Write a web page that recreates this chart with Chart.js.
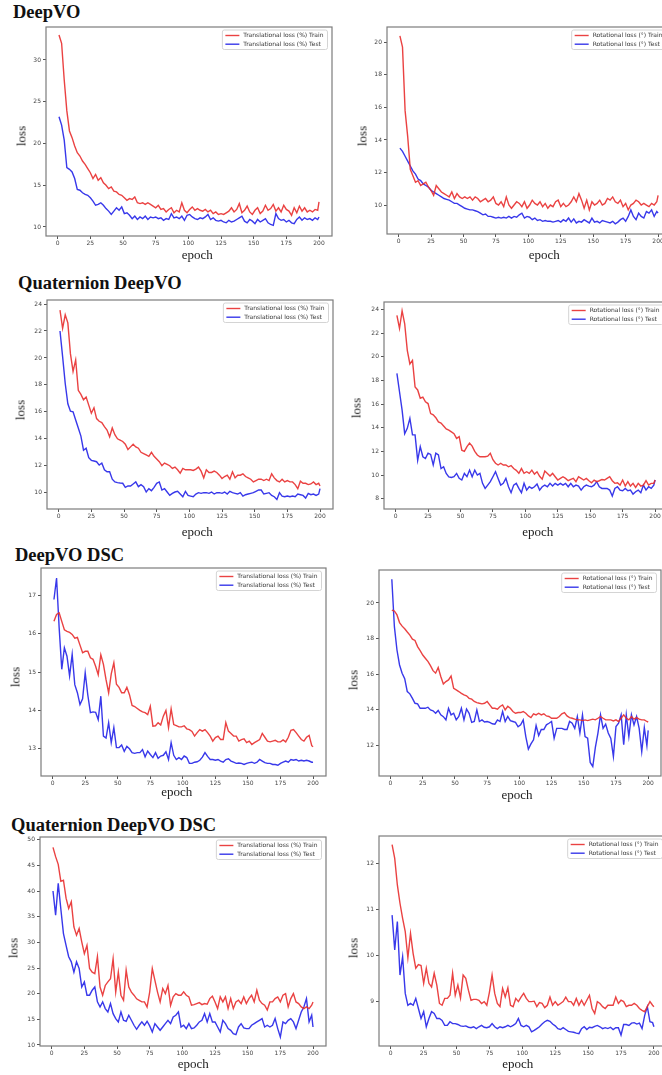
<!DOCTYPE html>
<html>
<head>
<meta charset="utf-8">
<script src="https://cdn.jsdelivr.net/npm/chart.js@4.4.0/dist/chart.umd.min.js"></script>
<style>
html, body { margin:0; padding:0; background:#fff; overflow:hidden; }
body { width:662px; height:1075px; position:relative; }
canvas { position:absolute; }
.ttl { position:absolute; font-family:"Liberation Serif", serif; font-weight:bold; font-size:18.5px; line-height:1; color:#111; white-space:nowrap; }
.lbl { position:absolute; font-family:"Liberation Serif", serif; font-size:13px; line-height:1; color:#222; white-space:nowrap; transform:translate(-50%,-50%); }
.lbl.rot { transform:translate(-50%,-50%) rotate(-90deg); }
</style>
</head>
<body>

<div class="ttl" style="left:13px;top:3px">DeepVO</div>
<div class="ttl" style="left:18px;top:274px">Quaternion DeepVO</div>
<div class="ttl" style="left:15px;top:546px">DeepVO DSC</div>
<div class="ttl" style="left:11px;top:816px">Quaternion DeepVO DSC</div>

<script>
// epochs sampled every 2 (plus the last one)
var epochs = [1,3,5,7,9,11,13,15,17,19,
  21,23,25,27,29,31,33,35,37,39,
  41,43,45,47,49,51,53,55,57,59,
  61,63,65,67,69,71,73,75,77,79,
  81,83,85,87,89,91,93,95,97,99,
  101,103,105,107,109,111,113,115,117,119,
  121,123,125,127,129,131,133,135,137,139,
  141,143,145,147,149,151,153,155,157,159,
  161,163,165,167,169,171,173,175,177,179,
  181,183,185,187,189,191,193,195,197,199,
  200];
var xTicks = [0,25,50,75,100,125,150,175,200];

var transNames = ['Translational loss (%) Train', 'Translational loss (%) Test'];
var rotNames = ['Rotational loss (°) Train', 'Rotational loss (°) Test'];

// DeepVO
var dvTransTicks = [10,15,20,25,30];
var dvTransTrain = [33.0,32.0,27.6,23.9,21.5,20.7,19.7,18.9,18.5,17.9,
  17.5,17.0,16.5,15.8,16.3,15.6,15.9,15.3,15.0,14.6,
  14.8,14.3,14.2,13.9,13.8,13.5,13.2,13.4,13.3,13.6,
  12.9,12.8,12.9,12.7,12.9,12.7,12.5,12.3,12.6,12.1,
  12.2,11.8,12.1,12.3,11.7,12.0,11.8,12.9,12.0,11.7,
  12.1,12.4,12.0,12.2,12.0,11.9,12.1,11.8,12.0,11.6,
  11.8,11.5,11.6,11.5,11.7,11.9,12.3,11.8,12.1,12.8,
  11.7,12.0,12.5,11.8,11.5,12.0,12.3,11.6,11.9,12.6,
  12.0,12.2,12.7,11.9,12.3,11.8,12.6,12.1,11.9,11.4,
  12.3,11.7,12.5,11.9,12.3,11.8,12.0,11.8,12.1,12.0,
  13.0];
var dvTransTest = [23.2,22.2,20.4,17.1,16.9,16.6,15.8,14.5,14.4,14.1,
  13.9,13.8,13.5,13.1,12.6,12.7,12.9,12.6,12.2,11.9,
  11.5,11.9,12.3,12.0,12.4,11.6,11.7,11.4,11.0,11.3,
  10.9,11.2,11.0,11.3,10.9,11.2,11.1,11.2,11.0,11.1,
  10.8,11.0,10.9,11.6,11.1,11.2,11.0,11.3,10.8,11.4,
  11.5,11.2,11.0,10.9,11.1,11.0,11.2,11.5,10.9,11.1,
  10.8,10.7,10.8,10.6,10.5,10.8,10.6,10.7,10.9,11.1,
  11.3,10.7,10.5,10.9,10.7,10.4,10.9,10.6,10.8,11.0,
  10.5,10.3,10.2,11.6,11.0,10.8,10.9,10.6,10.8,10.5,
  10.4,10.9,11.2,10.8,11.1,10.9,11.0,10.8,11.1,10.9,
  11.2];
var dvRotTicks = [10,12,14,16,18,20];
var dvRotTrain = [20.4,19.7,15.8,14.2,12.2,11.8,11.4,11.5,11.2,11.3,
  11.4,11.1,10.9,10.6,11.2,11.0,10.8,10.7,10.6,10.5,
  10.8,10.4,10.7,10.5,10.4,10.5,10.4,10.5,10.3,10.5,
  10.4,10.2,10.3,10.4,10.2,10.3,10.5,10.1,10.0,10.2,
  9.9,10.5,10.0,9.8,10.0,10.2,10.1,9.9,10.2,9.8,
  10.0,10.3,10.1,10.0,10.2,9.9,10.1,9.8,10.0,9.9,
  10.2,10.3,9.9,10.1,9.9,10.0,10.2,10.5,10.2,10.7,
  10.3,9.8,10.3,9.7,10.2,10.0,10.1,10.3,10.0,10.1,
  10.4,10.3,10.5,10.2,10.1,10.3,9.9,10.1,9.7,10.0,
  10.1,10.3,10.2,10.0,10.1,10.0,9.9,10.1,10.0,10.2,
  10.6];
var dvRotTest = [13.5,13.3,13.0,12.7,12.4,12.1,11.9,11.6,11.5,11.3,
  11.2,11.1,10.9,10.8,10.7,10.6,10.5,10.4,10.35,10.3,
  10.2,10.1,10.1,10.0,9.9,9.8,9.75,9.7,9.7,9.65,
  9.6,9.5,9.4,9.45,9.3,9.3,9.25,9.2,9.25,9.2,
  9.25,9.2,9.3,9.2,9.3,9.25,9.4,9.5,9.2,9.3,
  9.25,9.1,9.2,9.05,9.1,9.0,9.05,9.0,9.0,8.95,
  9.0,9.05,8.95,9.1,9.0,9.2,8.95,9.15,8.9,9.0,
  8.95,9.1,9.0,8.9,9.2,8.95,9.0,8.9,9.05,9.0,
  8.95,8.9,9.0,8.85,8.95,9.1,9.2,9.0,9.3,9.7,
  9.3,9.1,9.5,9.3,9.2,9.6,9.5,9.7,9.3,9.6,
  9.5];

// Quaternion DeepVO
var qTransTicks = [10,12,14,16,18,20,22,24];
var qTransTrain = [23.55,22.2,23.2,22.6,20.3,19.0,19.85,17.6,17.3,16.9,
  17.1,16.5,15.9,16.3,15.5,15.3,15.2,14.9,14.65,14.15,
  14.8,14.3,14.0,13.9,13.8,13.6,13.2,13.4,13.6,13.4,
  13.3,13.0,12.9,12.8,12.7,13.0,12.7,12.5,12.3,12.0,
  12.2,12.1,12.0,11.8,11.9,11.7,11.45,11.8,11.7,11.7,
  11.7,11.65,11.75,11.9,11.6,11.1,11.7,11.5,11.5,11.6,
  11.5,11.3,11.05,11.2,11.3,11.0,11.55,11.1,11.3,11.3,
  11.4,11.2,11.1,11.0,10.8,10.9,11.0,11.0,10.9,11.0,
  10.9,11.4,11.1,10.9,10.8,11.0,10.8,10.9,10.8,10.8,
  10.6,10.3,10.85,10.7,10.7,10.6,10.65,10.8,10.6,10.7,
  10.5];
var qTransTest = [22.0,20.1,18.1,16.6,16.05,16.0,15.4,14.8,14.2,13.15,
  13.3,12.6,12.4,12.35,12.3,12.05,12.2,11.7,11.55,11.55,
  11.0,10.8,10.75,10.72,10.7,10.4,10.5,10.5,10.65,10.8,
  10.45,10.6,10.45,10.05,10.3,10.15,10.4,10.7,10.8,10.2,
  10.3,10.05,9.8,9.95,10.05,10.1,9.9,9.7,10.1,9.8,
  9.75,9.7,9.9,10.0,9.95,10.0,10.0,9.95,10.05,9.9,
  10.0,10.0,9.95,10.05,9.9,10.1,10.0,9.95,9.9,10.0,
  9.75,9.85,9.9,9.95,10.0,10.1,10.2,10.2,9.9,9.95,
  10.0,9.8,9.7,9.5,10.0,9.75,9.7,9.75,9.7,9.75,
  9.7,9.9,9.85,9.8,9.6,9.95,9.85,9.9,9.8,9.9,
  10.3];
var qRotTicks = [8,10,12,14,16,18,20,22,24];
var qRotTrain = [23.5,22.4,23.9,22.8,20.55,19.4,19.7,17.45,17.2,16.5,
  16.6,16.2,16.05,15.2,15.1,14.85,14.5,14.4,14.15,13.9,
  13.8,13.65,13.5,13.1,13.25,12.1,12.0,12.4,12.7,12.45,
  12.0,11.7,11.55,11.55,11.55,11.6,11.85,11.3,11.0,10.85,
  11.0,10.85,10.85,10.7,10.8,10.55,10.4,10.15,10.55,10.15,
  10.28,10.14,10.42,10.08,10.28,9.9,9.65,10.34,10.14,9.92,
  10.14,9.86,9.58,9.72,9.86,9.72,9.52,9.63,9.72,9.44,
  9.86,9.72,9.58,9.72,9.52,9.35,9.58,9.44,9.52,9.63,
  9.58,9.72,9.86,9.52,9.3,9.35,9.15,9.58,9.07,9.44,
  9.07,9.3,8.96,9.3,9.07,9.15,9.52,9.15,9.3,9.3,
  9.58];
var qRotTest = [18.6,17.05,15.5,13.5,13.95,14.8,13.4,13.4,11.25,12.4,
  11.55,11.4,11.85,11.75,10.85,11.85,11.7,10.55,10.7,10.14,
  9.85,9.8,9.86,10.14,9.72,9.58,10.14,9.86,10.42,9.86,
  10.42,10.0,10.14,9.3,8.87,9.15,9.44,9.86,10.28,9.72,
  9.15,9.3,9.72,9.01,8.51,9.15,9.3,8.87,8.51,9.3,
  8.73,9.01,8.87,9.01,9.24,8.73,9.01,9.15,9.01,9.3,
  9.07,9.3,9.15,9.3,9.15,9.3,9.01,9.3,9.01,9.15,
  9.07,8.73,9.01,9.15,9.07,9.01,9.15,9.44,9.01,8.87,
  8.87,8.87,8.73,8.23,8.87,9.01,8.73,8.68,8.87,8.68,
  8.73,8.39,8.59,8.73,8.51,9.15,8.73,9.01,8.87,9.15,
  9.58];

// DeepVO DSC
var dscTransTicks = [13,14,15,16,17];
var dscTransTrain = [16.32,16.5,16.54,16.32,16.1,16.06,16.03,15.98,15.88,15.9,
  15.7,15.5,15.54,15.54,15.37,15.33,15.15,14.93,15.45,15.2,
  14.8,14.46,14.95,15.24,14.68,14.6,14.46,14.46,14.6,14.41,
  14.13,14.1,14.05,14.0,13.96,13.94,13.89,14.11,13.59,13.6,
  13.68,13.62,13.85,14.0,13.55,14.04,13.63,13.6,13.57,13.57,
  13.6,13.52,13.5,13.45,13.33,13.42,13.5,13.46,13.5,13.42,
  13.33,13.2,13.29,13.33,13.24,13.24,13.68,13.46,13.4,13.33,
  13.33,13.2,13.24,13.26,13.16,13.2,13.11,13.16,13.2,13.24,
  13.4,13.3,13.2,13.18,13.2,13.22,13.18,13.18,13.23,13.18,
  13.3,13.48,13.5,13.42,13.33,13.24,13.2,13.3,13.35,13.08,
  13.05];
var dscTransTest = [16.89,17.45,16.15,15.07,15.63,15.41,14.9,15.46,14.67,14.46,
  14.15,14.3,14.98,14.4,13.94,13.96,13.95,13.76,14.37,13.33,
  13.28,13.68,13.16,13.55,13.03,13.03,13.1,12.93,13.06,13.0,
  12.9,12.88,12.9,12.9,12.98,12.79,12.94,12.85,12.77,12.9,
  12.75,12.81,12.83,12.92,12.72,13.16,12.83,12.72,12.77,12.72,
  12.81,12.77,12.62,12.62,12.65,12.66,12.7,12.78,12.9,12.8,
  12.72,12.72,12.7,12.72,12.68,12.65,12.72,12.74,12.68,12.65,
  12.62,12.63,12.62,12.59,12.62,12.64,12.65,12.62,12.65,12.72,
  12.68,12.64,12.62,12.62,12.59,12.59,12.57,12.62,12.65,12.68,
  12.65,12.72,12.7,12.72,12.68,12.7,12.68,12.7,12.68,12.65,
  12.65];
var dscRotTicks = [12,14,16,18,20];
var dscRotTrain = [19.6,19.55,19.33,18.9,18.7,18.55,18.37,18.2,17.97,17.9,
  17.55,17.32,17.08,16.9,16.72,16.48,16.2,16.06,16.38,15.87,
  15.45,15.59,15.68,15.9,15.21,15.12,15.03,14.93,14.84,14.79,
  14.65,14.6,14.47,14.41,14.37,14.34,14.37,14.47,14.28,14.09,
  14.09,14.04,14.19,14.28,14.0,14.2,14.09,13.91,13.81,13.85,
  13.85,13.91,13.81,13.66,13.57,13.78,13.72,13.81,13.72,13.78,
  13.66,13.63,13.53,13.53,13.53,13.63,13.78,13.85,13.66,13.57,
  13.53,13.48,13.44,13.44,13.4,13.44,13.4,13.44,13.48,13.44,
  13.53,13.63,13.53,13.44,13.44,13.44,13.38,13.44,13.35,13.53,
  13.72,13.53,13.44,13.63,13.48,13.57,13.48,13.44,13.44,13.35,
  13.31];
var dscRotTest = [21.33,18.67,17.36,16.52,16.06,15.75,15.03,14.9,14.65,14.37,
  14.34,14.09,14.09,14.09,14.15,14.0,13.95,13.81,13.97,13.72,
  13.62,13.44,14.09,13.72,13.81,13.44,13.63,14.09,13.44,14.05,
  13.81,13.3,13.35,14.0,13.35,13.44,13.32,13.35,13.3,13.22,
  13.2,13.44,13.35,13.91,13.35,13.63,13.4,13.35,13.3,13.05,
  13.16,13.44,12.5,11.8,12.09,12.32,13.12,12.56,12.9,12.9,
  13.16,13.25,13.35,12.41,12.96,12.96,12.96,12.9,12.9,13.35,
  13.25,12.96,13.63,12.7,13.72,12.5,12.41,11.05,10.82,11.9,
  12.7,13.72,12.96,13.2,12.7,12.4,11.38,13.07,13.25,13.72,
  12.04,13.72,12.5,13.72,13.16,13.63,12.96,11.66,13.0,12.0,
  12.85];

// Quaternion DeepVO DSC
var qdscTransTicks = [10,15,20,25,30,35,40,45,50];
var qdscTransTrain = [48.5,46.7,45.2,41.9,42.1,38.6,36.6,37.9,33.0,31.4,
  32.7,30.1,27.8,29.4,24.9,24.2,23.9,27.2,21.3,19.7,
  21.6,22.3,22.9,26.8,20.3,24.2,19.7,18.7,24.6,21.3,
  20.3,19.7,19.0,18.7,18.4,18.4,17.4,20.3,24.9,22.6,
  20.3,18.4,21.0,20.0,21.6,17.7,19.4,20.0,19.7,19.7,
  20.34,19.69,19.37,17.74,17.87,18.07,18.26,17.87,18.07,17.94,
  19.04,19.5,18.39,17.09,19.37,18.39,19.37,17.09,19.04,17.09,
  18.39,18.72,18.07,19.37,18.07,19.04,19.69,18.39,20.67,18.72,
  18.07,17.74,16.8,18.39,18.39,19.04,19.37,18.39,19.69,20.02,
  17.41,19.04,20.02,18.39,18.07,17.41,17.09,17.41,17.09,17.74,
  18.39];
var qdscTransTest = [40.0,35.3,41.5,36.5,31.7,29.4,27.2,26.2,24.2,26.2,
  24.9,21.3,22.3,19.7,19.7,20.67,21.3,18.4,17.41,18.4,
  17.09,16.44,18.07,16.11,15.14,14.49,16.44,14.81,14.62,15.79,
  14.81,13.84,13.06,13.84,14.49,13.84,14.62,13.72,12.54,14.16,
  13.51,12.86,13.51,14.16,14.81,14.16,15.46,15.79,16.44,13.51,
  13.84,13.19,14.16,13.19,13.32,13.84,14.49,14.81,16.11,14.49,
  16.11,14.49,14.49,13.51,12.54,14.81,14.16,13.19,12.86,12.21,
  12.02,13.51,14.16,13.32,13.19,13.19,13.84,14.16,14.49,14.81,
  15.14,13.51,13.84,13.51,13.84,15.14,13.19,11.56,14.49,14.16,
  14.81,15.14,14.49,13.19,14.81,16.44,17.41,19.04,14.49,15.79,
  13.51];
var qdscRotTicks = [9,10,11,12];
var qdscRotTrain = [12.42,12.12,11.54,11.14,10.81,10.52,9.95,10.48,10.04,9.72,
  9.8,9.78,9.39,9.72,9.39,9.31,9.61,9.35,8.95,8.91,
  9.06,9.06,9.13,9.61,9.13,9.35,9.07,9.57,9.5,9.24,
  9.02,9.04,9.04,9.02,8.95,8.99,8.91,9.2,9.57,9.17,
  8.95,8.88,9.28,9.09,9.29,8.91,8.88,9.06,8.99,9.09,
  9.17,9.06,8.99,8.99,9.0,8.88,8.97,8.95,8.86,8.91,
  9.09,8.91,8.99,8.91,8.95,8.99,9.09,8.99,8.99,8.91,
  9.06,8.91,9.02,8.91,9.02,9.13,8.84,8.73,8.99,8.95,
  8.88,8.84,8.91,8.91,8.91,9.09,8.95,9.02,8.99,8.88,
  8.91,8.91,8.95,8.91,8.84,8.8,8.77,8.88,8.99,8.91,
  8.88];
var qdscRotTest = [10.88,10.12,10.74,9.57,9.97,9.17,8.91,8.95,8.91,9.06,
  8.84,8.62,8.77,8.44,8.62,8.77,8.73,8.62,8.62,8.58,
  8.47,8.47,8.55,8.51,8.51,8.49,8.46,8.45,8.46,8.43,
  8.42,8.44,8.4,8.44,8.47,8.43,8.42,8.44,8.51,8.44,
  8.40,8.44,8.42,8.44,8.47,8.44,8.47,8.51,8.62,8.47,
  8.44,8.47,8.44,8.33,8.36,8.4,8.44,8.5,8.55,8.58,
  8.56,8.5,8.46,8.4,8.38,8.42,8.38,8.34,8.33,8.32,
  8.3,8.29,8.4,8.44,8.38,8.43,8.42,8.45,8.47,8.44,
  8.4,8.42,8.4,8.43,8.38,8.42,8.42,8.26,8.49,8.49,
  8.47,8.52,8.53,8.5,8.52,8.4,8.69,8.88,8.55,8.53,
  8.44];

var RED = 'rgba(232,45,45,0.9)';
var BLUE = 'rgba(34,34,232,0.9)';
var PL = 40, PT = 6, PR = 8, PB = 16;

// plot box of each panel in page pixels: left, top, right, bottom
var panels = [
  {box:[46,27,332,236], y:[8.92,33.95], ticks:dvTransTicks, tr:dvTransTrain, te:dvTransTest, names:transNames, loss:[20.7,136], epoch:[197.3,254]},
  {box:[387,27,670.5,234], y:[8.22,20.94], ticks:dvRotTicks, tr:dvRotTrain, te:dvRotTest, names:rotNames, loss:[361.7,136], epoch:[544.3,254]},
  {box:[47.3,300,333.7,509], y:[8.79,24.3], ticks:qTransTicks, tr:qTransTrain, te:qTransTest, names:transNames, loss:[20,410], epoch:[197.3,531]},
  {box:[384.3,301.7,668.5,509], y:[7.13,24.64], ticks:qRotTicks, tr:qRotTrain, te:qRotTest, names:rotNames, loss:[356,408], epoch:[537.7,531]},
  {box:[40.5,568.3,325.5,776.7], y:[12.29,17.71], ticks:dscTransTicks, tr:dscTransTrain, te:dscTransTest, names:transNames, loss:[15,676.7], epoch:[176.7,790.5]},
  {box:[378.5,570,660.9,775.7], y:[10.29,21.85], ticks:dscRotTicks, tr:dscRotTrain, te:dscRotTest, names:rotNames, loss:[352.7,680], epoch:[517,794]},
  {box:[40,837,325.7,1045.7], y:[9.8,50.53], ticks:qdscTransTicks, tr:qdscTransTrain, te:qdscTransTest, names:transNames, loss:[13.3,948], epoch:[193.3,1063]},
  {box:[378.7,836,666.2,1045.7], y:[8.02,12.61], ticks:qdscRotTicks, tr:qdscRotTrain, te:qdscRotTest, names:rotNames, loss:[352.7,948], epoch:[517.7,1063]}
];

// full rectangle around the plot area
var frame = {
  id: 'frame',
  afterDatasetsDraw: function(c) {
    var a = c.chartArea, ctx = c.ctx;
    ctx.save();
    ctx.strokeStyle = '#7c7c7c';
    ctx.lineWidth = 1.2;
    ctx.strokeRect(a.left, a.top, a.right - a.left, a.bottom - a.top);
    ctx.restore();
  }
};

// matplotlib style legend box in the upper right corner
var boxLegend = {
  id: 'boxLegend',
  afterDraw: function(c) {
    var a = c.chartArea, ctx = c.ctx, ds = c.data.datasets;
    ctx.save();
    ctx.font = '6px "DejaVu Sans"';
    var tw = 0;
    ds.forEach(function(d) { tw = Math.max(tw, ctx.measureText(d.label).width); });
    var w = 21 + tw + 4, h = 19.5;
    var x0 = a.right - 4.5 - w, y0 = a.top + 3;
    ctx.fillStyle = 'rgba(255,255,255,0.85)';
    ctx.strokeStyle = '#d4d4d4';
    ctx.lineWidth = 1;
    ctx.beginPath();
    if (ctx.roundRect) ctx.roundRect(x0, y0, w, h, 2); else ctx.rect(x0, y0, w, h);
    ctx.fill();
    ctx.stroke();
    ds.forEach(function(d, i) {
      var yy = y0 + 5.5 + i * 8.7;
      ctx.strokeStyle = d.borderColor;
      ctx.lineWidth = 1.4;
      ctx.beginPath();
      ctx.moveTo(x0 + 3, yy);
      ctx.lineTo(x0 + 17, yy);
      ctx.stroke();
      ctx.fillStyle = '#333';
      ctx.textBaseline = 'middle';
      ctx.fillText(d.label, x0 + 21, yy + 0.3);
    });
    ctx.restore();
  }
};

function addLabel(txt, pos, rot) {
  var d = document.createElement('div');
  d.className = rot ? 'lbl rot' : 'lbl';
  d.style.left = pos[0] + 'px';
  d.style.top = pos[1] + 'px';
  d.textContent = txt;
  document.body.appendChild(d);
}

panels.forEach(function(p) {
  var b = p.box;
  var cv = document.createElement('canvas');
  var w = Math.round(b[2] - b[0] + PL + PR), h = Math.round(b[3] - b[1] + PT + PB);
  cv.width = w;
  cv.height = h;
  cv.style.left = (b[0] - PL) + 'px';
  cv.style.top = (b[1] - PT) + 'px';
  cv.style.width = w + 'px';
  cv.style.height = h + 'px';
  document.body.appendChild(cv);

  var tickFont = {family: 'DejaVu Sans', size: 6};
  new Chart(cv, {
    type: 'line',
    data: {
      datasets: [
        {label: p.names[0], data: epochs.map(function(e, i) { return {x: e, y: p.tr[i]}; }),
         borderColor: RED, borderWidth: 1.4, pointRadius: 0, tension: 0},
        {label: p.names[1], data: epochs.map(function(e, i) { return {x: e, y: p.te[i]}; }),
         borderColor: BLUE, borderWidth: 1.4, pointRadius: 0, tension: 0}
      ]
    },
    options: {
      responsive: false,
      animation: false,
      events: [],
      layout: {padding: {left: 0, top: PT, right: PR, bottom: 0}},
      plugins: {legend: {display: false}, tooltip: {enabled: false}},
      scales: {
        x: {
          type: 'linear', min: -8.95, max: 209.95,
          afterBuildTicks: function(s) { s.ticks = xTicks.map(function(v) { return {value: v}; }); },
          afterFit: function(s) { s.height = PB; },
          grid: {drawOnChartArea: false, drawTicks: true, tickLength: 3, tickColor: '#555'},
          border: {display: false},
          ticks: {font: tickFont, color: '#444', padding: 1, maxRotation: 0, autoSkip: false}
        },
        y: {
          type: 'linear', min: p.y[0], max: p.y[1],
          afterBuildTicks: function(s) { s.ticks = p.ticks.map(function(v) { return {value: v}; }); },
          afterFit: function(s) { s.width = PL; },
          grid: {drawOnChartArea: false, drawTicks: true, tickLength: 3, tickColor: '#555'},
          border: {display: false},
          ticks: {font: tickFont, color: '#444', padding: 2, autoSkip: false}
        }
      }
    },
    plugins: [frame, boxLegend]
  });

  addLabel('loss', p.loss, true);
  addLabel('epoch', p.epoch, false);
});
</script>
</body>
</html>
